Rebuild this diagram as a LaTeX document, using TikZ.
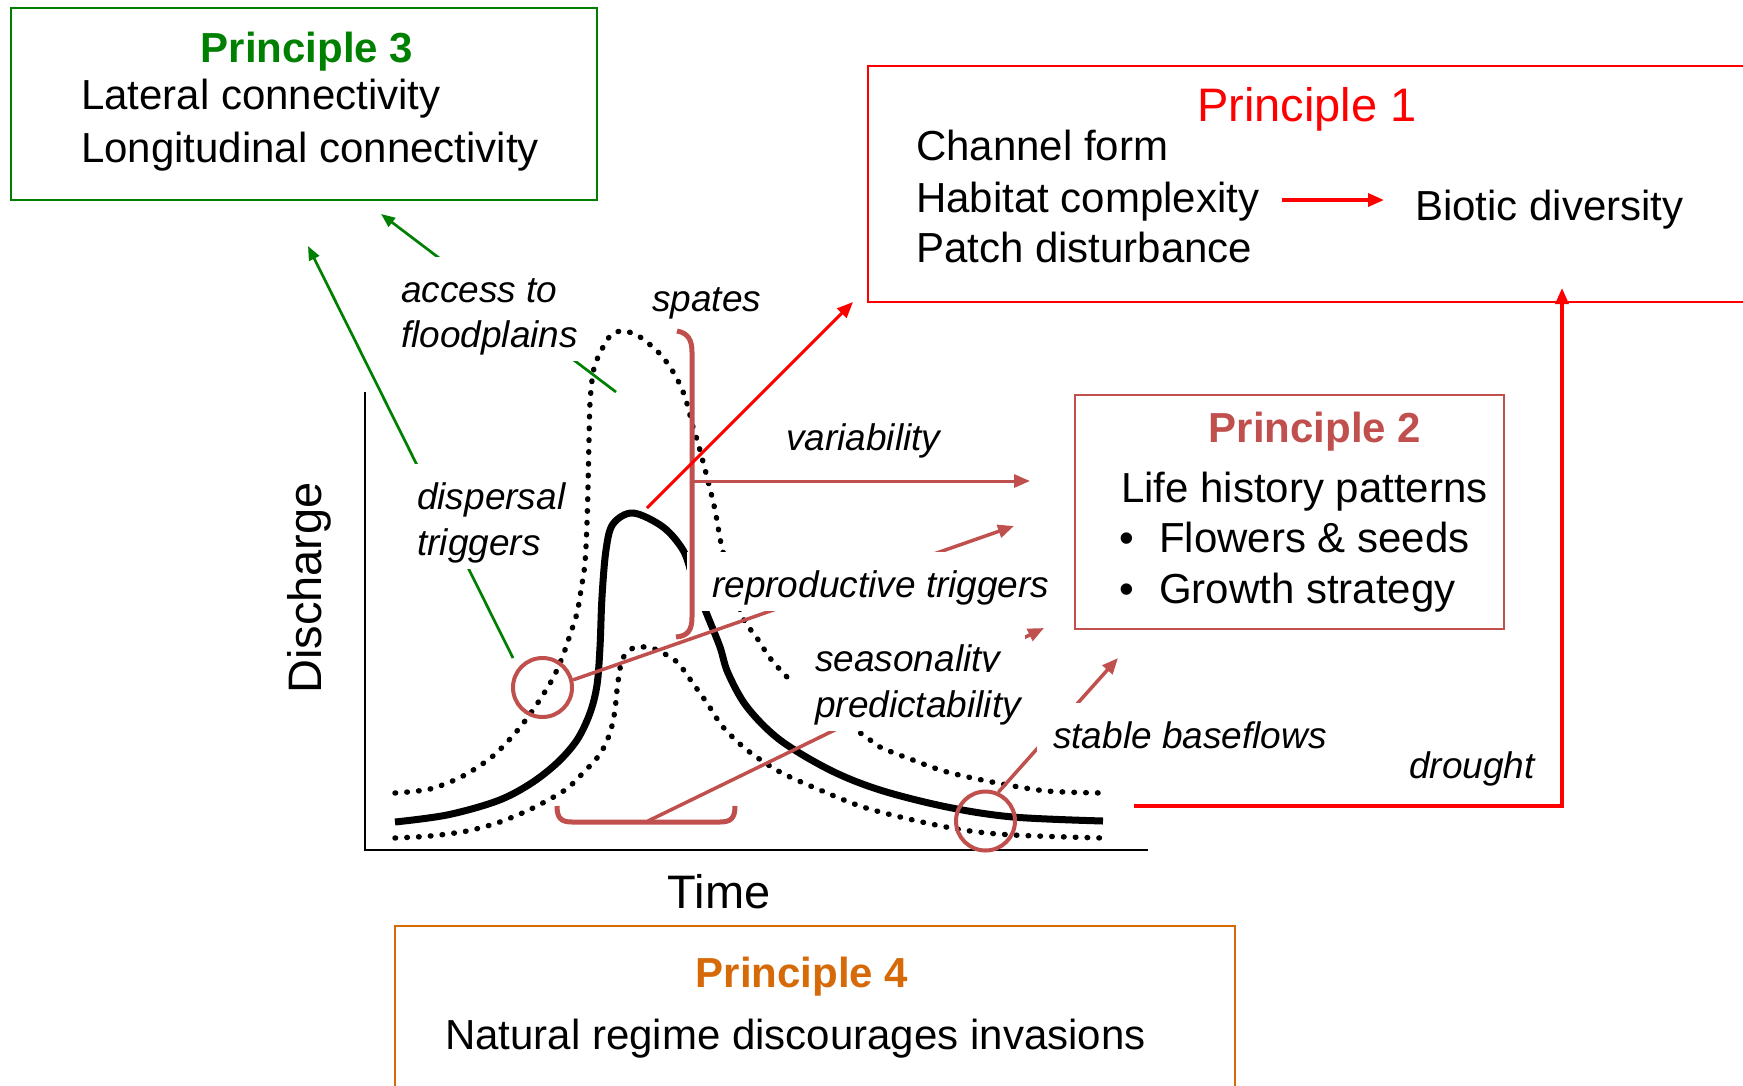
\documentclass[tikz,border=0pt]{standalone}
\usepackage{fontspec}
\setmainfont{Liberation Sans}
\usetikzlibrary{arrows.meta}
\definecolor{pgreen}{RGB}{0,128,0}
\definecolor{pred}{RGB}{255,0,0}
\definecolor{pbrown}{RGB}{192,80,77}
\definecolor{porange}{RGB}{214,106,9}
\newcommand{\fmain}{\fontsize{42pt}{50pt}\selectfont}
\newcommand{\flab}{\fontsize{37pt}{44pt}\selectfont\itshape}
\newcommand{\faxis}{\fontsize{47pt}{56pt}\selectfont}
\begin{document}
\begin{tikzpicture}[x=1pt,y=-1pt,
  boxline/.style={draw, line width=2pt, inner sep=0pt, anchor=north west},
  txt/.style={font=\fmain, inner sep=0pt, anchor=base west},
  ttl/.style={font=\fmain\bfseries, inner sep=0pt, anchor=base},
  lab/.style={font=\flab, fill=white, inner xsep=16pt, inner ysep=0pt, text height=45pt, text depth=14pt, anchor=base west},
  dots/.style={line width=5.4pt, line cap=round, dash pattern=on 0.6pt off 11.2pt},
  hydro/.style={line width=7pt},
  garrow/.style={pgreen, line width=2.7pt, -{Triangle[length=14pt,width=11pt]}},
  rarrow/.style={pred, line width=3pt, -{Triangle[length=16pt,width=13pt]}},
  barrow/.style={pbrown, line width=3.5pt, -{Triangle[length=16pt,width=13pt]}},
  ring/.style={circle, draw=pbrown, line width=4pt, minimum size=59pt, inner sep=0pt},
  brack/.style={pbrown, line width=5pt}]
\useasboundingbox (0,0) rectangle (1743,1085);
\fill[white] (0,0) rectangle (1743,1085);

% principle boxes
\node[boxline, draw=pgreen, minimum width=586pt, minimum height=192pt] (P3) at (10,7) {};
\node[boxline, draw=pred, minimum width=893pt, minimum height=236pt] (P1) at (867,65) {};
\node[boxline, draw=pbrown, minimum width=429pt, minimum height=234pt] (P2) at (1074,394) {};
\node[boxline, draw=porange, minimum width=840pt, minimum height=175pt] (P4) at (394,925) {};

% principle texts
\node[ttl, pgreen] (t3) at (307,62) {Principle 3};
\node[txt] (l31) at (81,109) {Lateral connectivity};
\node[txt] (l32) at (81,162) {Longitudinal connectivity};

\node[font=\faxis, inner sep=0pt, anchor=base, pred] (t1) at (1307,121) {Principle 1};
\node[txt] (l11) at (916,160) {Channel form};
\node[txt] (hab) at (916,212) {Habitat complexity};
\node[txt] (l13) at (916,262) {Patch disturbance};
\node[txt] (bio) at (1415,220) {Biotic diversity};

\node[ttl, pbrown] (t2) at (1315,442) {Principle 2};
\node[txt] (l21) at (1121,502) {Life history patterns};
\node[font=\fmain, inner sep=0pt, anchor=base] (b1) at (1127,552) {\textbullet};
\node[txt] (l22) at (1159,552) {Flowers \& seeds};
\node[font=\fmain, inner sep=0pt, anchor=base] (b2) at (1127,603) {\textbullet};
\node[txt] (l23) at (1159,603) {Growth strategy};

\node[ttl, porange] (t4) at (802,987) {Principle 4};
\node[txt] (l41) at (445,1049) {Natural regime discourages invasions};

% axes
\coordinate (ytop) at (365,392);
\coordinate (orig) at (365,850);
\coordinate (xend) at (1148,850);
\draw[line width=1.6pt] (ytop) -- (orig) -- (xend);
\node[font=\faxis, inner sep=0pt, anchor=base, rotate=90] (ylab) at (321,588) {Discharge};
\node[font=\faxis, inner sep=0pt, anchor=base] (xlab) at (719,908) {Time};

% hydrographs
\draw[dots] plot[smooth, tension=0.5] coordinates {(395,793) (430,789) (463,776) (493,756) (517,731) (535,707) (552,680) (562,658) (570,635) (577,613) (581,590) (585,563) (587,523) (588,487) (589,440) (590,403) (593,373) (598,357) (610,336) (621,331) (632,333) (643,339) (661,355) (675,375) (685,397) (693,427) (698,443) (707,477) (715,510) (722,548) (733,585) (743,618) (757,638) (770,658) (787,677) (820,710) (862,734) (880,747) (913,760) (947,772) (997,783) (1047,791) (1103,793)};
\draw[dots] plot[smooth, tension=0.5] coordinates {(395,838) (430,836) (467,831) (500,822) (533,808) (565,790) (583,773) (600,754) (610,733) (615,710) (617,690) (622,660) (633,648) (645,647) (657,650) (677,662) (692,682) (707,703) (723,727) (747,750) (780,772) (820,790) (863,807) (913,820) (963,830) (1013,835) (1103,838)};
\draw[hydro] plot[smooth, tension=0.55] coordinates {(395,822) (447,815) (497,801) (530,784) (557,763) (577,740) (590,713) (597,685) (600,647) (602,597) (606,550) (613,524) (633,513) (663,527) (683,550) (692,575) (700,597) (708,617) (720,647) (728,673) (747,707) (780,740) (830,770) (880,790) (947,807) (1013,817) (1103,821)};

% circles
\node[ring] (c1) at (542.5,687.5) {};
\node[ring] (c2) at (985.5,821) {};

% connectors hidden behind labels
\coordinate (accS) at (616,392);
\coordinate (accT) at (381,214);
\draw[garrow] (accS) -- (accT);
\coordinate (disS) at (513,658);
\coordinate (disT) at (308,246);
\draw[garrow] (disS) -- (disT);
\coordinate (repT) at (1014,526);
\draw[barrow] (c1.14) -- (repT);
\coordinate (bb) at (648,821);
\coordinate (seaT) at (1044,628);
\draw[barrow] (bb) -- (seaT);
\coordinate (stbT) at (1118,658);
\draw[barrow] (c2.66) -- (stbT);

% labels
\node[lab] (acc2) at (385,347) {floodplains};
\node[lab] (acc1) at (385,302) {access to};
\node[lab] (spt) at (636,311) {spates};
\node[lab] (var) at (770,450) {variability};
\node[lab] (dis2) at (401,555) {triggers};
\node[lab] (dis1) at (401,509) {dispersal};
\node[lab, inner xsep=25pt] (rep) at (687,597) {reproductive triggers};
\node[lab, inner xsep=25pt] (sea) at (790,671) {seasonality};
\node[lab, inner xsep=25pt] (pre) at (790,717) {predictability};
\node[lab] (stb) at (1037,748) {stable baseflows};
\node[lab] (dro) at (1393,778) {drought};

% brackets
\draw[brack] (677,331) .. controls (688,333) and (692,340) .. (692,352) -- (692,617) .. controls (692,630) and (688,636) .. (676,637);
\draw[brack] (557,806) .. controls (557,818) and (561,822) .. (572,822) -- (720,822) .. controls (731,822) and (735,818) .. (735,806);

% other connectors
\coordinate (sb) at (692,481);
\coordinate (varT) at (1030,481);
\draw[barrow, line width=3pt] (sb) -- (varT);
\coordinate (pk) at (647,508);
\coordinate (p1T) at (853,302);
\draw[rarrow] (pk) -- (p1T);
\coordinate (drS) at (1134,806);
\coordinate (drT) at (1562,288);
\draw[rarrow, line width=3.5pt] (drS) -| (drT);
\coordinate (habE) at (1282,200);
\coordinate (bioW) at (1384,200);
\draw[rarrow, line width=3.5pt] (habE) -- (bioW);
\end{tikzpicture}
\end{document}
